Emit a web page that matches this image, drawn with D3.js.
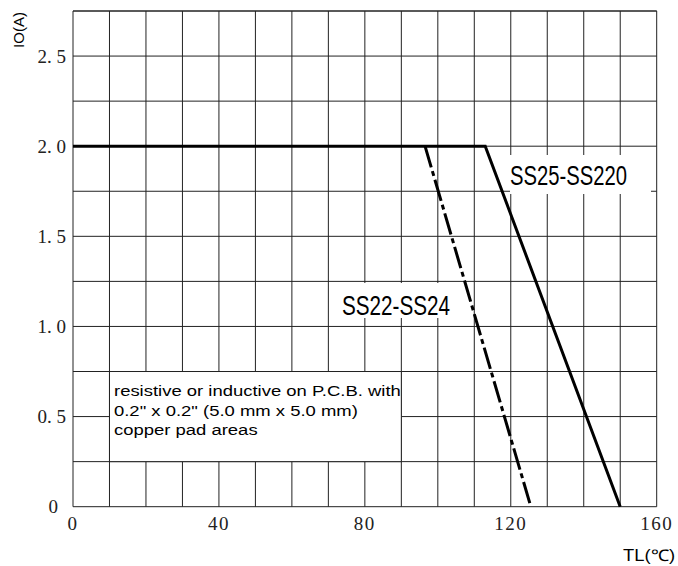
<!DOCTYPE html>
<html>
<head>
<meta charset="utf-8">
<script src="https://cdn.jsdelivr.net/npm/d3@7"></script>
<style>
  html, body { margin: 0; padding: 0; background: #fff; }
</style>
</head>
<body>
<div id="chart"></div>
<script>
// ============================================================
// Data
// ============================================================
const ss25Temp = [0, 113, 150];
const ss25Io   = [2.0, 2.0, 0];
const ss22Temp = [96.5, 125.5];
const ss22Io   = [2.0, 0];

const xTicks = [0, 40, 80, 120, 160];
const yTicks = [0, 0.5, 1.0, 1.5, 2.0, 2.5];
const yTickLabels = ["0", "0. 5", "1. 0", "1. 5", "2. 0", "2. 5"];
const xGrid = d3.range(0, 161, 10);
const yGrid = d3.range(0, 2.76, 0.25);

const noteLines = [
  "resistive or inductive on P.C.B. with",
  "0.2\" x 0.2\" (5.0 mm x 5.0 mm)",
  "copper pad areas"
];
const noteWidth0 = 287;   // width of first line in the picture

// ============================================================
// Layout
// ============================================================
const W = 678, H = 566;
const L = 73, R = 656.7, T = 11, B = 506.7;

const x = d3.scaleLinear().domain([0, 160]).range([L, R]);
const y = d3.scaleLinear().domain([0, 2.75]).range([B, T]);

const svg = d3.select("#chart").append("svg")
  .attr("width", W).attr("height", H);

const SERIF = "'Liberation Serif', 'DejaVu Serif', serif";
const SANS = "'Liberation Sans', Arial, sans-serif";
const NARROW = "'Liberation Sans Narrow', 'Liberation Sans', Arial, sans-serif";

// --- grid ---
const gridG = svg.append("g").attr("stroke", "#222").attr("stroke-width", 1);
gridG.selectAll("line.v").data(xGrid).join("line")
  .attr("class", "v")
  .attr("x1", d => x(d)).attr("x2", d => x(d))
  .attr("y1", T).attr("y2", B);
gridG.selectAll("line.h").data(yGrid).join("line")
  .attr("class", "h")
  .attr("x1", L).attr("x2", R)
  .attr("y1", d => y(d)).attr("y2", d => y(d));
gridG.append("line").attr("x1", L).attr("x2", R).attr("y1", T).attr("y2", T);

// --- white boxes over the grid (note + curve labels) ---
svg.append("rect")
  .attr("x", x(10)).attr("y", y(0.75))
  .attr("width", x(90) - x(10)).attr("height", y(0.25) - y(0.75))
  .attr("fill", "#fff").attr("stroke", "#222").attr("stroke-width", 1);

svg.append("rect")
  .attr("x", 510).attr("y", 155).attr("width", 141).attr("height", 39)
  .attr("fill", "#fff");
svg.append("rect")
  .attr("x", 335).attr("y", 283).attr("width", 120).attr("height", 35)
  .attr("fill", "#fff");

// --- note text (glyphs stretched horizontally like the original) ---
const noteX = x(10) + 4.5;
const noteG = svg.append("g");
noteG.selectAll("text").data(noteLines).join("text")
  .attr("x", 0)
  .attr("y", (d, i) => y(0.75) + 24 + i * 20)
  .attr("font-family", SANS)
  .attr("font-size", "15px")
  .attr("fill", "#000")
  .text(d => d);
const natural = noteG.select("text").node().getComputedTextLength();
noteG.attr("transform", `translate(${noteX},0) scale(${noteWidth0 / natural},1)`);

// --- curves ---
const line = d3.line().x(d => x(d[0])).y(d => y(d[1]));

svg.append("path")
  .datum(ss25Temp.map((t, i) => [t, ss25Io[i]]))
  .attr("d", line)
  .attr("fill", "none").attr("stroke", "#000")
  .attr("stroke-width", 3).attr("stroke-linejoin", "miter");

svg.append("path")
  .datum(ss22Temp.map((t, i) => [t, ss22Io[i]]))
  .attr("d", line)
  .attr("fill", "none").attr("stroke", "#000")
  .attr("stroke-width", 3)
  .attr("stroke-dasharray", "22,4,5,4");

// --- curve labels ---
svg.append("text")
  .attr("x", 510).attr("y", 185)
  .attr("font-family", NARROW).attr("font-size", "27px")
  .attr("textLength", 117).attr("lengthAdjust", "spacingAndGlyphs")
  .text("SS25-SS220");
svg.append("text")
  .attr("x", 342).attr("y", 315)
  .attr("font-family", NARROW).attr("font-size", "27px")
  .attr("textLength", 108).attr("lengthAdjust", "spacingAndGlyphs")
  .text("SS22-SS24");

// --- tick labels ---
svg.append("g").selectAll("text").data(yTicks).join("text")
  .attr("x", d => d === 0 ? 58 : 66)
  .attr("y", d => y(d))
  .attr("dy", "0.35em")
  .attr("text-anchor", "end")
  .attr("font-family", SERIF).attr("font-size", "19px")
  .attr("fill", "#222")
  .text((d, i) => yTickLabels[i]);

svg.append("g").selectAll("text").data(xTicks).join("text")
  .attr("x", d => x(d))
  .attr("y", 530)
  .attr("text-anchor", "middle")
  .attr("font-family", SERIF).attr("font-size", "19px")
  .attr("letter-spacing", "1.5px")
  .attr("fill", "#222")
  .text(d => d);

// --- axis titles ---
svg.append("text")
  .attr("x", 675).attr("y", 561)
  .attr("text-anchor", "end")
  .attr("font-family", SANS).attr("font-size", "16px")
  .attr("textLength", 52).attr("lengthAdjust", "spacingAndGlyphs")
  .text("TL(℃)");

svg.append("text")
  .attr("transform", "translate(24,30) rotate(-90)")
  .attr("text-anchor", "middle")
  .attr("font-family", SANS).attr("font-size", "15px")
  .text("IO(A)");
</script>
</body>
</html>
